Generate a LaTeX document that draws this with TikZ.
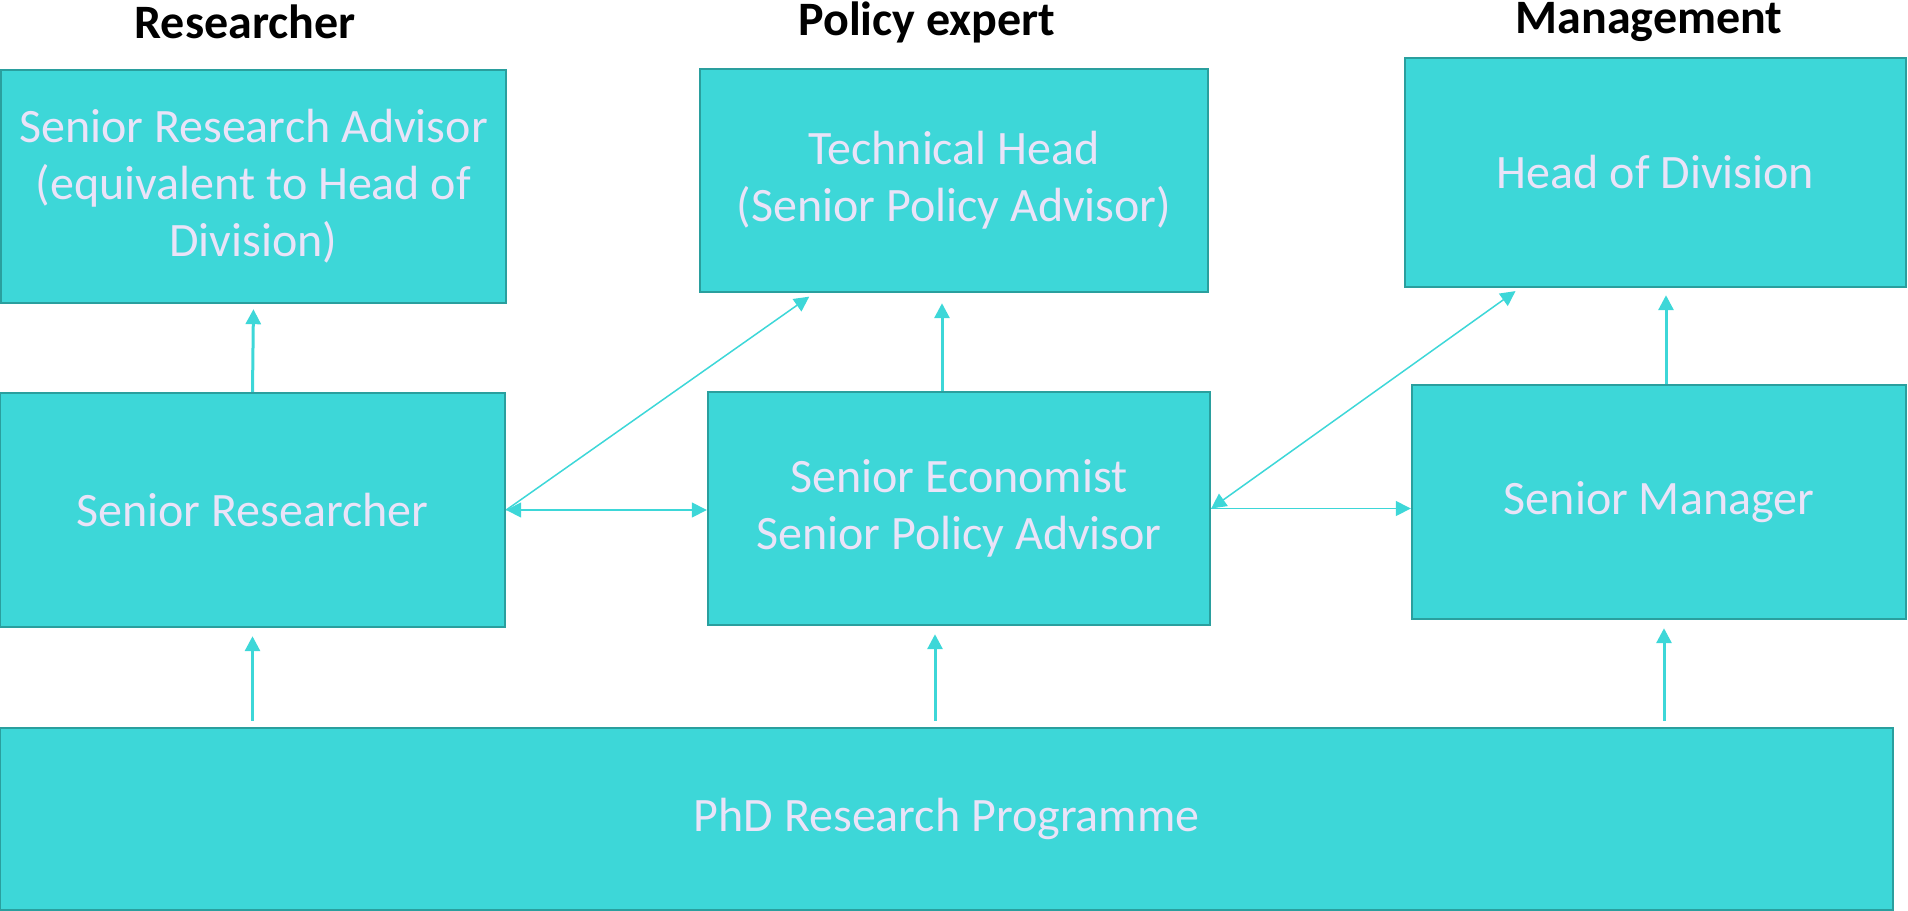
\documentclass[tikz,border=0pt]{standalone}
\usepackage{fontspec}
\setmainfont{Carlito}
\usetikzlibrary{calc,arrows.meta}
\definecolor{teal1}{HTML}{3DD7D8}
\definecolor{teal2}{HTML}{2A9F9E}
\definecolor{lav}{HTML}{EAE3F8}
\begin{document}
\begin{tikzpicture}[x=0.5pt,y=-0.5pt, >={Triangle[length=7.5pt,width=7.5pt]},
    box/.style={draw=teal2, line width=1.2pt, fill=teal1, text=lav, align=center,
        inner sep=0pt, font=\fontsize{24}{28.5}\selectfont},
    head/.style={font=\fontsize{24}{28}\selectfont\bfseries},
    link/.style={draw=teal1, line width=0.75pt},
    rise/.style={draw=teal1, line width=1.5pt, ->, shorten <=3pt, shorten >=4pt}]
    \useasboundingbox (0,0) rectangle (1908,911);
    % headings
    \node[head](Hr)at(245,22){Researcher};
    \node[head](Hp)at(927,22){Policy expert};
    \node[head](Hm)at(1649,22){Management};
    % top row
    \node[box, minimum width=252.5pt, minimum height=116.5pt](SRA)at(253.5,186.5)
        {Senior Research Advisor\\(equivalent to Head of\\Division)};
    \node[box, minimum width=254pt, minimum height=111.5pt](TH)at(954,180.5)
        {Technical Head\\(Senior Policy Advisor)};
    \node[box, minimum width=250.5pt, minimum height=114.5pt](HD)at(1655.5,172.5)
        {Head of Division};
    % middle row
    \node[box, minimum width=252.5pt, minimum height=117pt](SR)at(252.5,510)
        {Senior Researcher};
    \node[box, minimum width=251pt, minimum height=116.5pt](SE)at(959,508.5)
        {Senior Economist\\Senior Policy Advisor};
    \node[box, minimum width=247pt, minimum height=117pt](SM)at(1659,502)
        {Senior Manager};
    % bottom
    \node[box, minimum width=946.5pt, minimum height=91pt](PhD)at(946.5,819)
        {PhD Research Programme};
    % promotion arrows
    \path[rise](PhD.north -| SR.south)to(SR.south);
    \path[rise]($(PhD.north -| SE.south)+(-24,0)$)to($(SE.south)+(-24,0)$);
    \path[rise]($(PhD.north -| SM.south)+(5,0)$)to($(SM.south)+(5,0)$);
    \path[rise, shorten <=0pt, shorten >=2.5pt](SR.north)to(SRA.south);
    \path[rise, shorten <=0pt, shorten >=5pt]($(SE.north)+(-17,0)$)to($(TH.south -| SE.north)+(-17,0)$);
    \path[rise, shorten <=0pt, shorten >=3.5pt]($(SM.north)+(7,0)$)to($(HD.south -| SM.north)+(7,0)$);
    % moves between tracks
    \path[link, <->](SR.east)to(SR.east -| SE.west);
    \path[link, ->, shorten >=3pt](SR.east)to($(TH.south west)!0.226!(TH.south east)$);
    \path[link, ->](SE.east)to(SE.east -| SM.west);
    \path[link, <->, shorten >=2.5pt](SE.east)to($(HD.south west)!0.23!(HD.south east)$);
\end{tikzpicture}
\end{document}
